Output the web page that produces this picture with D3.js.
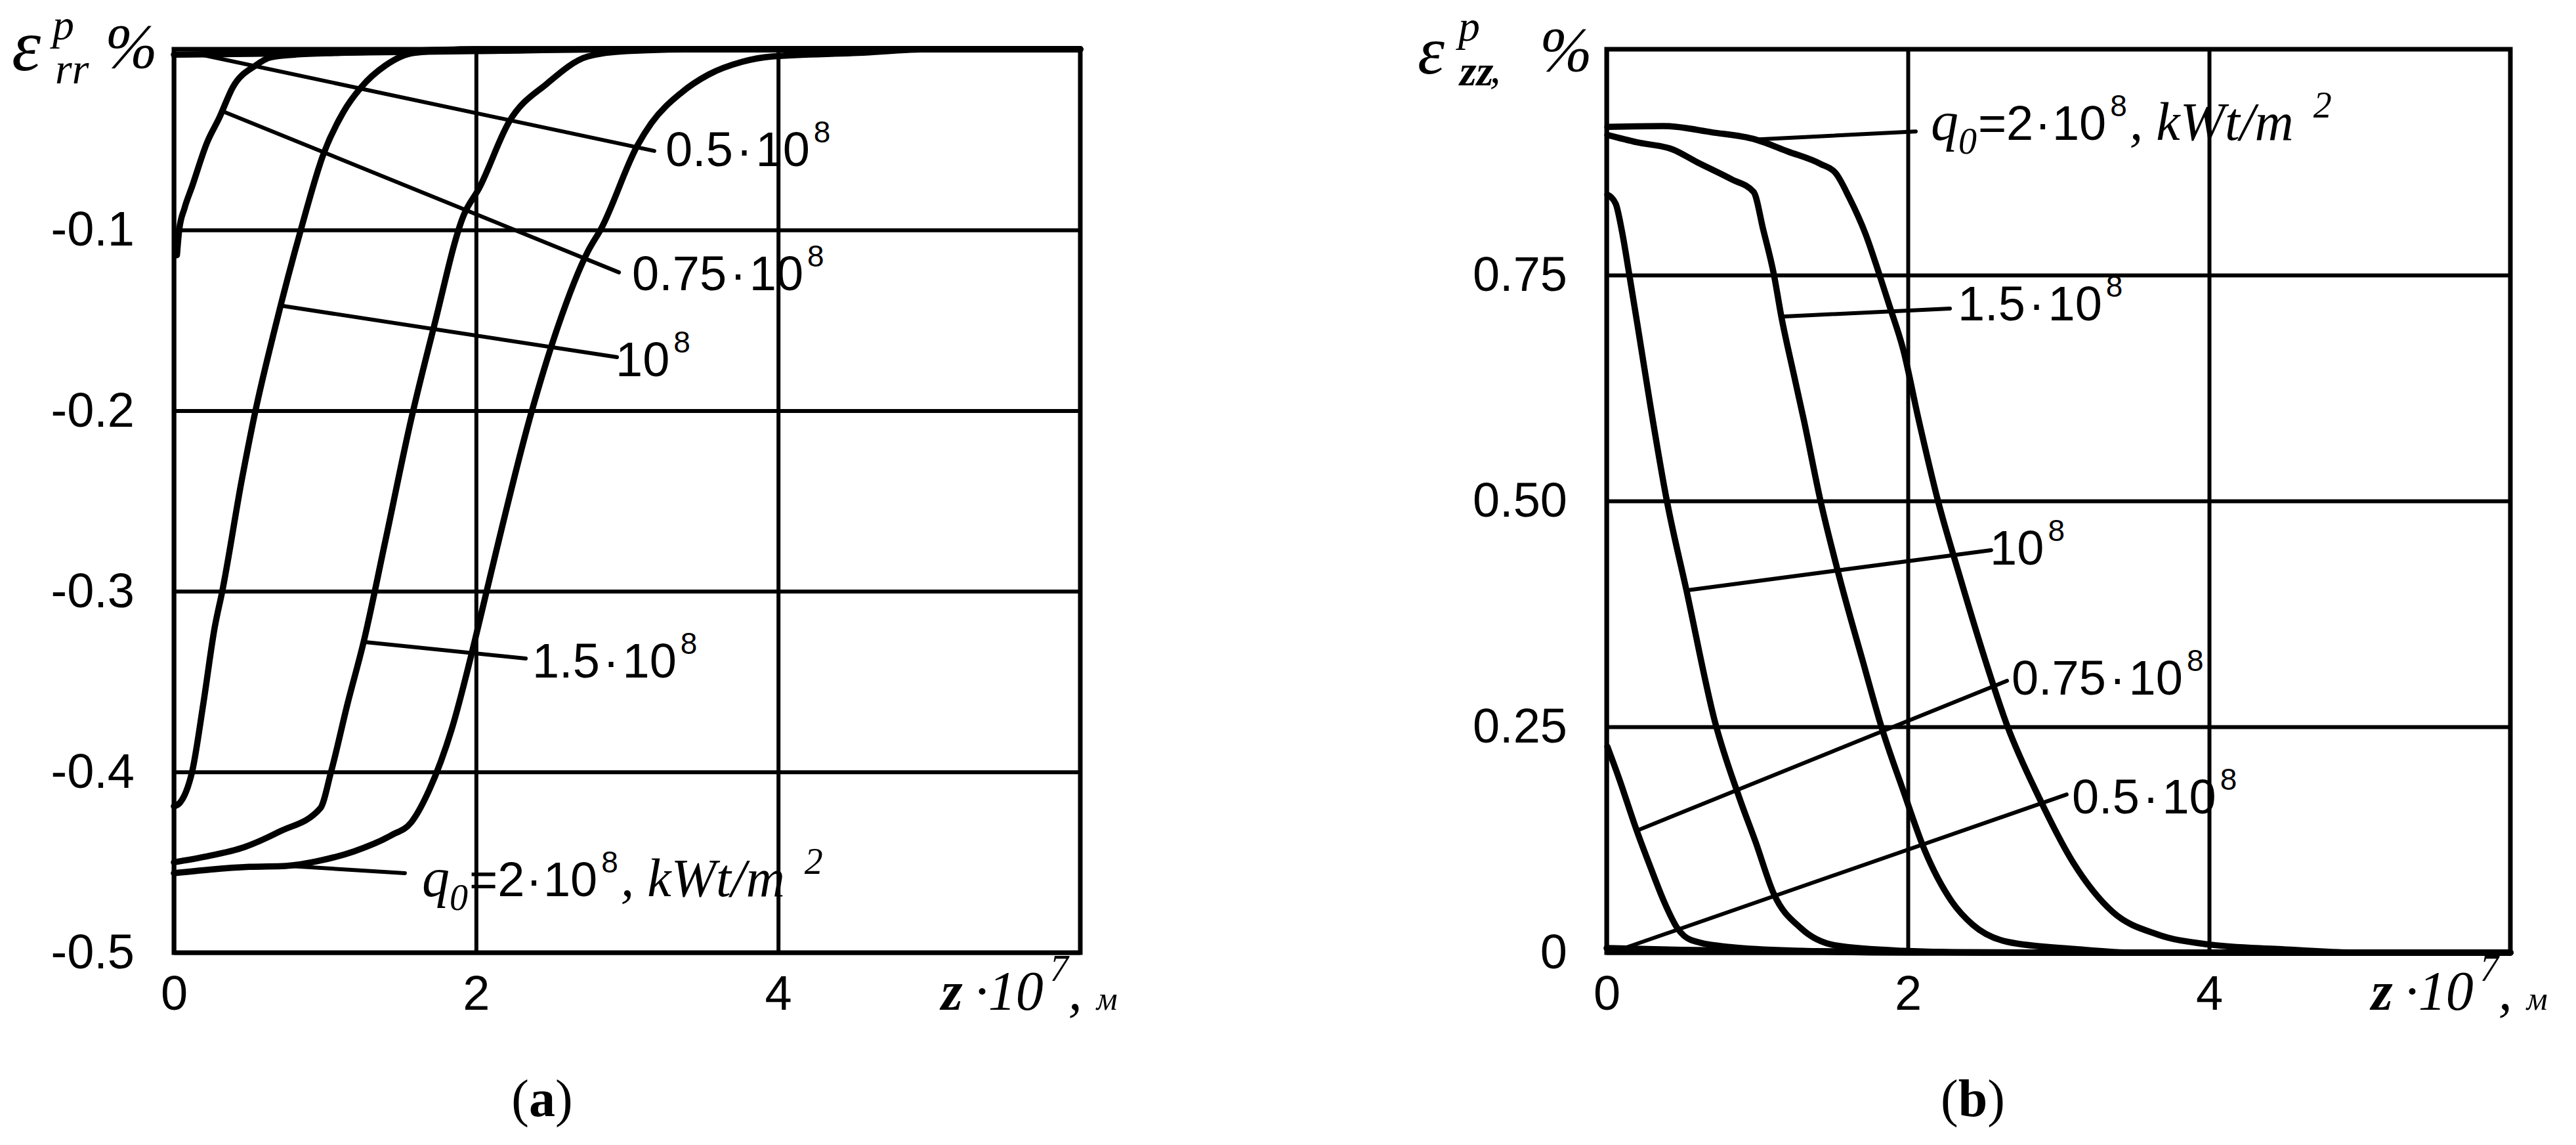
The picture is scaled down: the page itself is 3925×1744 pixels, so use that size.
<!DOCTYPE html>
<html>
<head>
<meta charset="utf-8">
<script src="https://cdnjs.cloudflare.com/ajax/libs/d3/7.8.5/d3.min.js"></script>
<style>
  body { margin: 0; background: #fff; }
  svg { display: block; background: #fff; }
</style>
</head>
<body>
<svg id="chart" width="3925" height="1744"></svg>
<script>
// ---- data (z in 1e-7 m, strain in %) ----
const xTicks = [0, 2, 4];
const rrTicks = [-0.1, -0.2, -0.3, -0.4, -0.5];
const rrTickLabels = ["-0.1", "-0.2", "-0.3", "-0.4", "-0.5"];
const zzTicks = [0, 0.25, 0.5, 0.75];
const zzTickLabels = ["0", "0.25", "0.50", "0.75"];

// (a) eps_rr
const rr_q05 = [[0, -0.003], [0.5, -0.0025], [1, -0.002], [2, -0.001], [3, 0], [6, 0]];
const rr_q075 = [[0.02, -0.114], [0.035, -0.1], [0.07, -0.088], [0.12, -0.076], [0.22, -0.0515], [0.3, -0.038],
  [0.39, -0.021], [0.54, -0.009], [0.64, -0.0045], [0.8, -0.003], [1.1, -0.002], [1.5, -0.001], [2, 0], [6, 0]];
const rr_q1 = [[0, -0.419], [0.04, -0.417], [0.08, -0.411], [0.12, -0.4], [0.195, -0.362], [0.27, -0.32],
  [0.32, -0.3], [0.45, -0.238], [0.54, -0.2], [0.67, -0.154], [0.84, -0.1], [0.99, -0.058], [1.12, -0.035],
  [1.24, -0.021], [1.4, -0.009], [1.59, -0.002], [2, 0], [6, 0]];
const rr_q15 = [[0, -0.45], [0.2, -0.447], [0.47, -0.4415], [0.7, -0.433], [0.97, -0.42], [1.04, -0.4],
  [1.15, -0.362], [1.256, -0.328], [1.4, -0.272], [1.57, -0.205], [1.72, -0.154], [1.92, -0.0915],
  [2.02, -0.077], [2.22, -0.04], [2.47, -0.019], [2.74, -0.004], [3, -0.001], [3.5, 0], [6, 0]];
const rr_q2 = [[0, -0.456], [0.24, -0.454], [0.5, -0.4525], [0.74, -0.452], [0.97, -0.449], [1.19, -0.444],
  [1.44, -0.435], [1.57, -0.428], [1.69, -0.41], [1.84, -0.376], [1.99, -0.328], [2.07, -0.3], [2.37, -0.2],
  [2.54, -0.154], [2.74, -0.112], [2.83, -0.099], [3.07, -0.053], [3.16, -0.041], [3.36, -0.024],
  [3.54, -0.014], [3.76, -0.007], [3.96, -0.004], [4.53, -0.002], [5, 0], [6, 0]];

// (b) eps_zz
const zz_q05 = [[0, 0.005], [0.5, 0.003], [1, 0.002], [2, 0.001], [3, 0], [6, 0]];
const zz_q075 = [[0.005, 0.228], [0.08, 0.194], [0.2, 0.135], [0.29, 0.095], [0.38, 0.057], [0.47, 0.027],
  [0.56, 0.014], [0.83, 0.006], [1.29, 0.002], [2, 0], [6, 0]];
const zz_q1 = [[0.005, 0.839], [0.06, 0.829], [0.1, 0.8], [0.15, 0.751], [0.22, 0.679], [0.29, 0.606],
  [0.4, 0.5], [0.53, 0.401], [0.72, 0.255], [0.88, 0.172], [0.99, 0.122], [1.11, 0.065], [1.29, 0.027],
  [1.52, 0.008], [1.97, 0.002], [2.5, 0], [6, 0]];
const zz_q15 = [[0.005, 0.905], [0.2, 0.897], [0.44, 0.889], [0.6, 0.875], [0.83, 0.856], [0.976, 0.842],
  [1.04, 0.8], [1.11, 0.751], [1.16, 0.704], [1.24, 0.642], [1.31, 0.589], [1.42, 0.5], [1.54, 0.419],
  [1.7, 0.323], [1.83, 0.247], [1.97, 0.179], [2.11, 0.114], [2.29, 0.057], [2.43, 0.031], [2.66, 0.012],
  [3.11, 0.004], [3.5, 0], [6, 0]];
const zz_q2 = [[0.005, 0.914], [0.38, 0.915], [0.7, 0.908], [0.99, 0.9], [1.2, 0.887], [1.42, 0.873],
  [1.52, 0.863], [1.61, 0.836], [1.72, 0.795], [1.81, 0.751], [1.88, 0.715], [1.97, 0.667], [2.07, 0.591],
  [2.2, 0.5], [2.34, 0.419], [2.5, 0.331], [2.66, 0.251], [2.87, 0.172], [3.1, 0.099], [3.36, 0.045],
  [3.66, 0.02], [4, 0.009], [4.46, 0.004], [5, 0], [6, 0]];

// curve labels: leader from curve at `at`, to `end`, text baseline start at `txt` (data units)
const rrNotes = [
  { s: rr_q05, at: 0.17, end: [3.18, -0.0563], txt: [3.254, -0.0647], label: "0.5" },
  { s: rr_q075, at: 0.32, end: [2.946, -0.1235], txt: [3.033, -0.1334], label: "0.75" },
  { s: rr_q1, at: 0.708, end: [2.933, -0.1704], txt: [2.924, -0.181], label: "1" },
  { s: rr_q15, at: 1.256, end: [2.329, -0.3372], txt: [2.372, -0.3478], label: "1.5" },
  { s: rr_q2, at: 0.743, end: [1.529, -0.456], txt: [1.642, -0.4688], label: "2" }
];
const zzNotes = [
  { s: zz_q2, at: 0.99, end: [2.052, 0.909], txt: [2.152, 0.8997], label: "2" },
  { s: zz_q15, at: 1.16, end: [2.279, 0.713], txt: [2.331, 0.7], label: "1.5" },
  { s: zz_q1, at: 0.53, end: [2.553, 0.4455], txt: [2.545, 0.4295], label: "1" },
  { s: zz_q075, at: 0.2, end: [2.658, 0.3009], txt: [2.688, 0.2856], label: "0.75" },
  { s: zz_q05, at: 0.11, end: [3.054, 0.175], txt: [3.089, 0.154], label: "0.5" }
];

// ---- drawing ----
const SANS = "'Liberation Sans', Arial, sans-serif";
const SERIF = "'Liberation Serif', 'Times New Roman', serif";
const svg = d3.select("#chart");

let richText = function (g, x, y, parts, anchor) {
  const t = g.append("text").attr("x", x).attr("y", y)
    .attr("text-anchor", anchor || "start").attr("fill", "#000");
  let cur = 0;
  parts.forEach((p) => {
    const off = -(p.rise || 0);
    const ts = t.append("tspan")
      .style("font-family", p.serif ? SERIF : SANS)
      .style("font-size", p.size + "px")
      .style("font-style", p.italic ? "italic" : "normal")
      .style("font-weight", p.bold ? "bold" : "normal")
      .text(p.t);
    if (p.x !== undefined) ts.attr("x", p.x);
    if (p.y !== undefined) ts.attr("y", p.y);
    else ts.attr("dy", off - cur);
    if (p.dx) ts.attr("dx", p.dx);
    cur = off;
  });
  return t;
};

let noteParts = function (label) {
  if (label === "2") {
    return [
      { t: "q", serif: true, italic: true, size: 84 },
      { t: "0", serif: true, italic: true, size: 56, rise: -21 },
      { t: "=2", size: 74, dx: 2 },
      { t: "·", size: 74, dx: 2 },
      { t: "10", size: 74, dx: 2 },
      { t: "8", size: 46, rise: 36, dx: 6 },
      { t: ",", serif: true, italic: true, size: 82, dx: 4 },
      { t: "kWt/m", serif: true, italic: true, size: 82, dx: 20 },
      { t: "2", serif: true, italic: true, size: 56, rise: 34, dx: 30 }
    ];
  }
  const head = label === "1" ? [] : [{ t: label, size: 74 }, { t: "·", size: 74, dx: 5 }];
  return head.concat([
    { t: "10", size: 74, dx: label === "1" ? 0 : 5 },
    { t: "8", size: 46, rise: 36, dx: 6 }
  ]);
};

let valueAt = function (s, xv) {
  for (let i = 1; i < s.length; i++) {
    if (xv <= s[i][0]) {
      const [x0, y0] = s[i - 1], [x1, y1] = s[i];
      return y0 + (y1 - y0) * (xv - x0) / (x1 - x0);
    }
  }
  return s[s.length - 1][1];
};

let drawPanel = function (p) {
  const g = svg.append("g");
  const x = d3.scaleLinear().domain([0, 6]).range([p.left, p.right]);
  const y = d3.scaleLinear().domain(p.yDomain).range([p.bottom, p.top]);
  const h = p.bottom - p.top, w = p.right - p.left;

  // x axis: grid + tick labels
  const xa = g.append("g").attr("transform", `translate(0,${p.bottom})`)
    .call(d3.axisBottom(x).tickValues(xTicks).tickFormat(d3.format("d")).tickSize(-h).tickPadding(34));
  // y axis: grid + tick labels
  const ya = g.append("g").attr("transform", `translate(${p.left},0)`)
    .call(d3.axisLeft(y).tickValues(p.yTicks).tickFormat((d, i) => p.yLabels[i]).tickSize(-w).tickPadding(60));
  [xa, ya].forEach((a) => {
    a.select(".domain").remove();
    a.selectAll(".tick line").attr("stroke", "#000").attr("stroke-width", 6);
    a.selectAll(".tick text").attr("fill", "#000")
      .style("font-family", SANS).style("font-size", "74px");
  });

  // frame
  g.append("rect").attr("x", p.left).attr("y", p.top).attr("width", w).attr("height", h)
    .attr("fill", "none").attr("stroke", "#000").attr("stroke-width", 7);

  // curves
  const line = d3.line().x((d) => x(d[0])).y((d) => y(d[1])).curve(d3.curveMonotoneX);
  g.selectAll("path.curve").data(p.series).enter().append("path")
    .attr("class", "curve").attr("d", line)
    .attr("fill", "none").attr("stroke", "#000").attr("stroke-width", 9.5)
    .attr("stroke-linejoin", "round").attr("stroke-linecap", "round");

  // leaders + labels
  p.notes.forEach((n) => {
    g.append("line")
      .attr("x1", x(n.at)).attr("y1", y(valueAt(n.s, n.at)))
      .attr("x2", x(n.end[0])).attr("y2", y(n.end[1]))
      .attr("stroke", "#000").attr("stroke-width", 6).attr("stroke-linecap", "round");
    richText(g, x(n.txt[0]), y(n.txt[1]), noteParts(n.label));
  });

  // x title
  richText(g, p.right - 212, 1538, [
    { t: "z", serif: true, italic: true, bold: true, size: 84 },
    { t: "·", serif: true, italic: true, size: 84, dx: 18 },
    { t: "10", serif: true, italic: true, size: 84 },
    { t: "7", serif: true, italic: true, size: 56, rise: 44, dx: 10 },
    { t: ",", serif: true, italic: true, size: 84 },
    { t: "м", serif: true, italic: true, size: 50, dx: 22 }
  ]);

  // panel label
  richText(g, p.tag[0], 1700, [
    { t: "(", serif: true, size: 80 },
    { t: p.tag[1], serif: true, bold: true, size: 80 },
    { t: ")", serif: true, size: 80 }
  ], "middle");

  // y title (one text element, pieces placed absolutely)
  richText(g, p.title[0].x, p.title[0].y, p.title);

  return g;
};

drawPanel({
  left: 265, right: 1646, top: 75, bottom: 1451,
  yDomain: [-0.5, 0], yTicks: rrTicks, yLabels: rrTickLabels,
  series: [rr_q05, rr_q075, rr_q1, rr_q15, rr_q2], notes: rrNotes, tag: [826, "a"],
  title: [
    { t: "ε", serif: true, italic: true, size: 112, x: 18, y: 107 },
    { t: "p", serif: true, italic: true, size: 66, x: 80, y: 60 },
    { t: "rr", serif: true, italic: true, size: 66, x: 84, y: 127 },
    { t: "%", serif: true, italic: true, size: 96, x: 160, y: 103 }
  ]
});
drawPanel({
  left: 2448, right: 3825, top: 75, bottom: 1451,
  yDomain: [0, 1], yTicks: zzTicks, yLabels: zzTickLabels,
  series: [zz_q05, zz_q075, zz_q1, zz_q15, zz_q2], notes: zzNotes, tag: [3006, "b"],
  title: [
    { t: "ε", serif: true, italic: true, size: 104, x: 2160, y: 112 },
    { t: "p", serif: true, italic: true, size: 66, x: 2222, y: 62 },
    { t: "zz", serif: true, italic: true, bold: true, size: 66, x: 2224, y: 130 },
    { t: ",", serif: true, italic: true, size: 66, x: 2270, y: 126 },
    { t: "%", serif: true, italic: true, size: 96, x: 2346, y: 108 }
  ]
});
</script>
</body>
</html>
